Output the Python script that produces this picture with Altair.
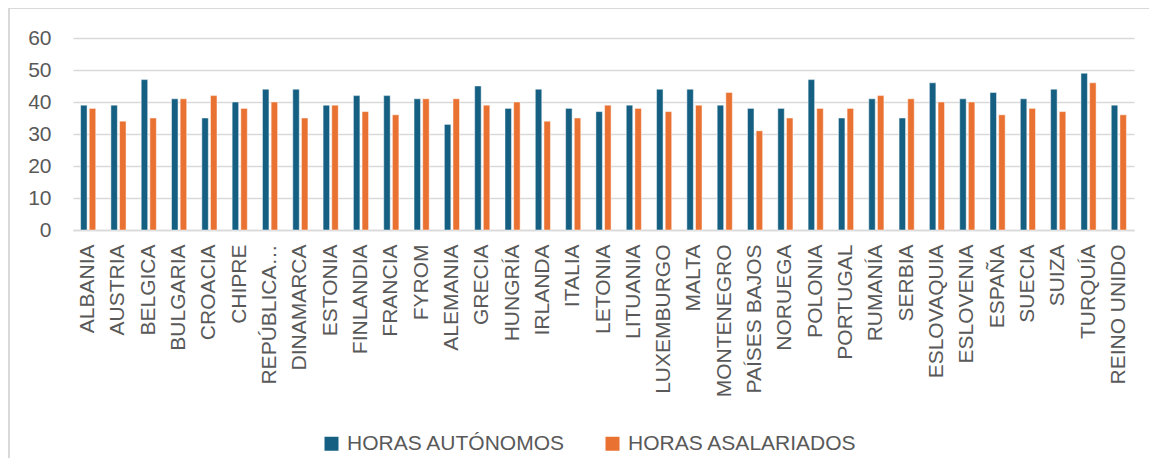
import altair as alt
import pandas as pd

paises = ["ALBANIA", "AUSTRIA", "BELGICA", "BULGARIA", "CROACIA", "CHIPRE",
          "REPÚBLICA CHECA", "DINAMARCA", "ESTONIA", "FINLANDIA", "FRANCIA",
          "FYROM", "ALEMANIA", "GRECIA", "HUNGRÍA", "IRLANDA", "ITALIA",
          "LETONIA", "LITUANIA", "LUXEMBURGO", "MALTA", "MONTENEGRO",
          "PAÍSES BAJOS", "NORUEGA", "POLONIA", "PORTUGAL", "RUMANÍA",
          "SERBIA", "ESLOVAQUIA", "ESLOVENIA", "ESPAÑA", "SUECIA", "SUIZA",
          "TURQUÍA", "REINO UNIDO"]
autonomos = [39, 39, 47, 41, 35, 40, 44, 44, 39, 42, 42, 41, 33, 45, 38, 44,
             38, 37, 39, 44, 44, 39, 38, 38, 47, 35, 41, 35, 46, 41, 43, 41,
             44, 49, 39]
asalariados = [38, 34, 35, 41, 42, 38, 40, 35, 39, 37, 36, 41, 41, 39, 40, 34,
               35, 39, 38, 37, 39, 43, 31, 35, 38, 38, 42, 41, 40, 40, 36, 38,
               37, 46, 36]
series = ["HORAS AUTÓNOMOS", "HORAS ASALARIADOS"]
colores = ["#156082", "#E97132"]
y_ticks = [0, 10, 20, 30, 40, 50, 60]

rows = []
for p, a, s in zip(paises, autonomos, asalariados):
    rows.append({"pais": p, "serie": series[0], "horas": a})
    rows.append({"pais": p, "serie": series[1], "horas": s})
df = pd.DataFrame(rows)

FONT = "Liberation Sans"
GRAY = "#595959"
GRID = "#d9d9d9"

bars = alt.Chart(df).mark_bar(stroke="white", strokeWidth=0.8, strokeOpacity=0.6).encode(
    x=alt.X("pais:N", sort=paises,
            scale=alt.Scale(paddingInner=0.5, paddingOuter=0.25),
            axis=alt.Axis(title=None, labelAngle=-90, labelFontSize=21,
                          labelColor=GRAY, labelFont=FONT, ticks=False,
                          domain=True, domainColor=GRID, domainWidth=1.5,
                          labelPadding=14, labelLimit=400, grid=False,
                          labelExpr="datum.label == 'REPÚBLICA CHECA' ? 'REPÚBLICA…' : datum.label")),
    xOffset=alt.XOffset("serie:N", sort=series,
                        scale=alt.Scale(paddingInner=0.25, paddingOuter=0)),
    y=alt.Y("horas:Q", scale=alt.Scale(domain=[0, 60]),
            axis=alt.Axis(title=None, values=y_ticks, ticks=False, domain=False,
                          gridColor=GRID, gridWidth=1.5, labelFontSize=21,
                          labelColor=GRAY, labelFont=FONT, labelPadding=22)),
    color=alt.Color("serie:N", sort=series,
                    scale=alt.Scale(domain=series, range=colores),
                    legend=alt.Legend(title=None, orient="none", direction="horizontal",
                                      legendX=248, legendY=395, symbolType="square",
                                      symbolSize=196, symbolStrokeWidth=0,
                                      labelFontSize=21, labelColor=GRAY, labelFont=FONT,
                                      labelOffset=5, columnPadding=36, labelLimit=400)),
)

border_df = pd.DataFrame({"b": [0]})
top_border = alt.Chart(border_df).mark_rule(color=GRID, strokeWidth=2).encode(
    x=alt.value(-64), x2=alt.value(1100), y=alt.value(-30))
left_border = alt.Chart(border_df).mark_rule(color=GRID, strokeWidth=2).encode(
    x=alt.value(-64), y=alt.value(-30), y2=alt.value(440))

chart = alt.layer(bars, top_border, left_border).properties(
    width=1061, height=192, autosize="none",
    padding={"left": 65, "top": 30, "right": 15, "bottom": 228},
).configure_view(stroke=None)

chart.save("out.html", embed_options={"renderer": "svg", "actions": False})
